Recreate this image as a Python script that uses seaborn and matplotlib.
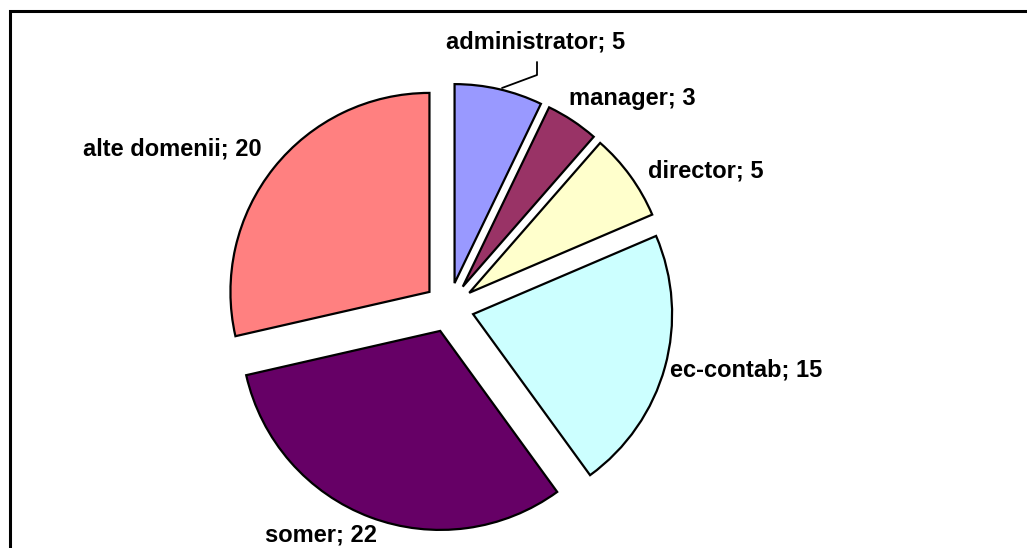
import matplotlib
matplotlib.use("Agg")
import matplotlib.pyplot as plt
import matplotlib.patches as patches
import seaborn as sns

# Data
categories = ["administrator", "manager", "director", "ec-contab", "somer", "alte domenii"]
counts = [5, 3, 5, 15, 22, 20]
colors = ["#9999FF", "#993366", "#FFFFCC", "#CCFFFF", "#660066", "#FF8080"]

sns.set_style("white")
plt.rcParams["font.family"] = ["Liberation Sans", "DejaVu Sans"]

W, H = 1027, 548
fig = plt.figure(figsize=(W / 100, H / 100), dpi=100)
ax = fig.add_axes([0, 0, 1, 1])

# pixel-like coords, y measured from top
def py(y):
    return H - y

cx, cy, r = 449, 307.5, 199
ax.pie(counts, colors=colors, startangle=90, counterclock=False,
       radius=r, center=(cx, py(cy)), explode=[25] * len(counts),
       wedgeprops=dict(edgecolor="black", linewidth=1.6))
ax.set_xlim(0, W)
ax.set_ylim(0, H)
ax.set_aspect("equal")
ax.axis("off")

# label placement (pixel positions of label centres)
label_pos = [(536, 42), (632, 98), (706, 171), (746, 370), (321, 535), (172, 149)]
for cat, n, (lx, ly) in zip(categories, counts, label_pos):
    ax.text(lx, py(ly), f"{cat}; {n}", ha="center", va="center",
            fontsize=17, fontweight="bold", color="black")

# leader line for administrator
ax.plot([537, 537, 502], [py(62), py(75), py(88)], color="black", linewidth=1.3)

# outer chart frame (cut at right and bottom edges)
fig.patches.append(patches.Rectangle((10 / W, -0.1), 1.2, 1 - 11.5 / H + 0.1,
                                     transform=fig.transFigure, fill=False,
                                     edgecolor="black", linewidth=2.2))

plt.savefig("out.png", dpi=100)
